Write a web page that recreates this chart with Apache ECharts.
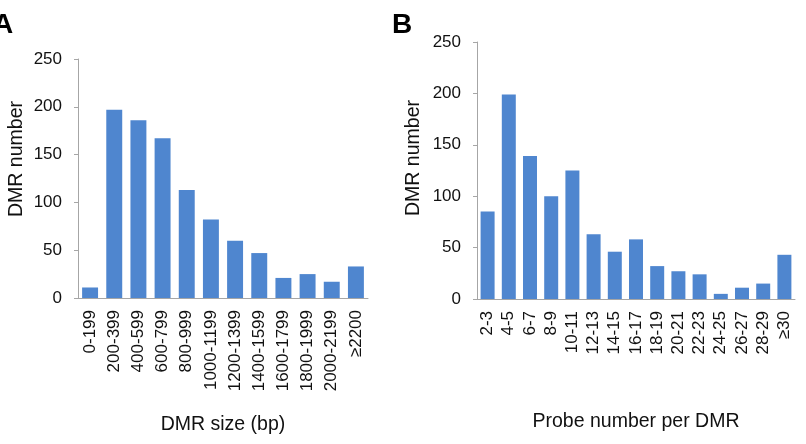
<!DOCTYPE html>
<html>
<head>
<meta charset="utf-8">
<script src="https://cdn.jsdelivr.net/npm/echarts@6/dist/echarts.min.js"></script>
<style>
  html, body { margin: 0; padding: 0; background: #fff; }
  #chart { width: 806px; height: 444px; }
</style>
</head>
<body>
<div id="chart"></div>
<script>
// panel A: DMR size
const sizeBins = ['0-199', '200-399', '400-599', '600-799', '800-999', '1000-1199',
  '1200-1399', '1400-1599', '1600-1799', '1800-1999', '2000-2199', '≥2200']
const sizeCounts = [11, 197, 186, 167, 113, 82, 60, 47, 21, 25, 17, 33]

// panel B: probes per DMR
const probeBins = ['2-3', '4-5', '6-7', '8-9', '10-11', '12-13', '14-15', '16-17',
  '18-19', '20-21', '22-23', '24-25', '26-27', '28-29', '≥30']
const probeCounts = [85, 199, 139, 100, 125, 63, 46, 58, 32, 27, 24, 5, 11, 15, 43]

const yTicks = { min: 0, max: 250, interval: 50 }

const font = 'Liberation Sans, Arial, sans-serif'
const barColor = '#4F86CF'
const axisGrey = '#a6a6a6'

const makeX = (idx, data, name, gap) => ({
  type: 'category',
  gridIndex: idx,
  data: data,
  name: name,
  nameLocation: 'middle',
  nameGap: gap,
  nameTextStyle: { fontFamily: font, fontSize: 19.5, color: '#111' },
  axisLine: { lineStyle: { color: axisGrey } },
  axisTick: { length: 4, lineStyle: { color: axisGrey } },
  axisLabel: { rotate: 90, margin: 12, fontFamily: font, fontSize: 17, color: '#111', interval: 0 }
})

const makeY = (idx) => ({
  type: 'value',
  gridIndex: idx,
  min: yTicks.min,
  max: yTicks.max,
  interval: yTicks.interval,
  splitLine: { show: false },
  axisLine: { show: true, lineStyle: { color: axisGrey } },
  axisTick: { show: true, length: 4, lineStyle: { color: axisGrey } },
  axisLabel: { margin: 16, fontFamily: font, fontSize: 17, color: '#111' }
})

const chart = echarts.init(document.getElementById('chart'))
chart.setOption({
  animation: false,
  grid: [
    { left: 78, top: 59, width: 290, height: 239 },
    { left: 477, top: 42, width: 318, height: 257 }
  ],
  xAxis: [
    makeX(0, sizeBins, 'DMR size (bp)', 117),
    makeX(1, probeBins, 'Probe number per DMR', 113)
  ],
  yAxis: [makeY(0), makeY(1)],
  series: [
    {
      type: 'bar', xAxisIndex: 0, yAxisIndex: 0,
      data: sizeCounts, barCategoryGap: '34%',
      itemStyle: { color: barColor }
    },
    {
      type: 'bar', xAxisIndex: 1, yAxisIndex: 1,
      data: probeCounts, barCategoryGap: '34%',
      itemStyle: { color: barColor }
    }
  ],
  graphic: [
    { type: 'text', left: -7, top: 11, style: { text: 'A', font: 'bold 28px ' + font, fill: '#000' } },
    { type: 'text', left: 392, top: 11, style: { text: 'B', font: 'bold 28px ' + font, fill: '#000' } },
    {
      type: 'text', x: 17, y: 159, rotation: Math.PI / 2,
      style: { text: 'DMR number', font: '19.5px ' + font, fill: '#111', align: 'center', verticalAlign: 'middle' }
    },
    {
      type: 'text', x: 414, y: 158, rotation: Math.PI / 2,
      style: { text: 'DMR number', font: '19.5px ' + font, fill: '#111', align: 'center', verticalAlign: 'middle' }
    }
  ]
})
</script>
</body>
</html>
